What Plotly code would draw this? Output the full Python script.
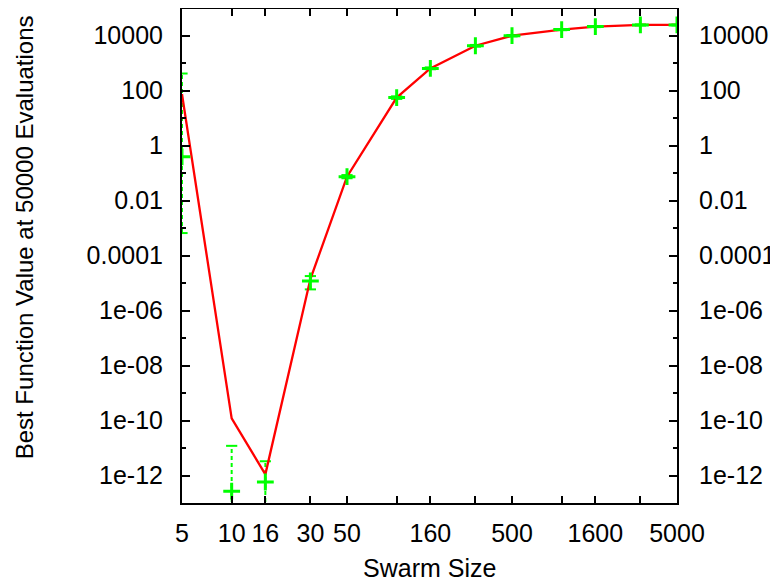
import plotly.graph_objects as go

# ---- data ----
swarm_sizes = [5, 10, 16, 30, 50, 100, 160, 300, 500, 1000, 1600, 3000, 5000]
# median best value (green crosses)
median_vals = [0.39, 2.7e-13, 5.8e-13, 1.2e-5, 0.074, 56, 645, 4300, 10000,
               16600, 21400, 24500, 24500]
# error bar ranges
err_low = [6.6e-4, 1e-15, 1e-15, 5.9e-6, 0.065, 50, 600, 4000, 9400,
           15800, 20500, 23500, 23600]
err_high = [420, 1.2e-11, 3.3e-12, 1.8e-5, 0.085, 62, 700, 4600, 10600,
            17400, 22300, 25500, 25400]
# mean best value (red line)
mean_vals = [75, 1.2e-10, 1.1e-12, 1.4e-5, 0.074, 56, 645, 4300, 10000,
             16600, 21400, 24500, 24500]

x_tick_vals = [5, 10, 16, 30, 50, 100, 160, 300, 500, 1000, 1600, 3000, 5000]
x_tick_text = ["5", "10", "16", "30", "50", "", "160", "", "500", "", "1600", "", "5000"]
y_tick_vals = [1e-12, 1e-10, 1e-8, 1e-6, 1e-4, 1e-2, 1, 100, 10000]
y_tick_text = ["1e-12", "1e-10", "1e-08", "1e-06", "0.0001", "0.01", "1", "100", "10000"]
y_minor_vals = [1e-13, 1e-11, 1e-9, 1e-7, 1e-5, 1e-3, 0.1, 10, 1000, 1e5]

FONT = "Liberation Sans, Arial, Helvetica, sans-serif"
GREEN = "#00ff00"
RED = "#ff0000"

fig = go.Figure()

# error bar segments (dashed)
ex, ey = [], []
for xv, lo, hi in zip(swarm_sizes, err_low, err_high):
    ex += [xv, xv, None]
    ey += [lo, hi, None]
fig.add_trace(go.Scatter(x=ex, y=ey, mode="lines",
                         line=dict(color=GREEN, width=2, dash="4px,3px"),
                         hoverinfo="skip", showlegend=False))
# caps
fig.add_trace(go.Scatter(x=swarm_sizes + swarm_sizes, y=err_low + err_high, mode="markers",
                         marker=dict(symbol="line-ew-open", size=8, color=GREEN,
                                     line=dict(color=GREEN, width=2)),
                         hoverinfo="skip", showlegend=False))
# mean line
fig.add_trace(go.Scatter(x=swarm_sizes, y=mean_vals, mode="lines",
                         line=dict(color=RED, width=2.3), showlegend=False))
# median crosses
fig.add_trace(go.Scatter(x=swarm_sizes, y=median_vals, mode="markers",
                         marker=dict(symbol="cross-thin-open", size=12, color=GREEN,
                                     line=dict(color=GREEN, width=3)),
                         showlegend=False))
# invisible trace for the right-hand axis
fig.add_trace(go.Scatter(x=swarm_sizes, y=median_vals, mode="markers", yaxis="y2",
                         marker=dict(opacity=0), hoverinfo="skip", showlegend=False))

yrange = [-13, 4.97]
common_y = dict(type="log", range=yrange, tickmode="array", tickvals=y_tick_vals,
                ticktext=y_tick_text, ticks="inside", ticklen=8, tickwidth=1.5,
                tickcolor="black", showgrid=False, zeroline=False, automargin=False,
                tickfont=dict(family=FONT, size=25, color="black"),
                minor=dict(tickmode="array", tickvals=y_minor_vals, ticks="inside",
                           ticklen=4, tickwidth=1.5, tickcolor="black", showgrid=False))

# page body has an 8px margin, so the figure is sized and offset accordingly
fig.update_layout(
    width=770, height=576,
    margin=dict(l=174, r=101, t=1, b=81),
    plot_bgcolor="white", paper_bgcolor="white",
    font=dict(family=FONT, size=25, color="black"),
    xaxis=dict(type="log", range=[0.69897, 3.69897], tickmode="array",
               tickvals=x_tick_vals, ticktext=x_tick_text, ticks="inside",
               ticklen=7, tickwidth=1.5, tickcolor="black", showline=True,
               linecolor="black", linewidth=2, mirror="ticks", showgrid=False,
               zeroline=False, ticklabelstandoff=7, automargin=False,
               tickfont=dict(family=FONT, size=25, color="black")),
    yaxis=dict(**common_y, showline=True, linecolor="black", linewidth=2,
               mirror=True, ticklabelstandoff=12),
    yaxis2=dict(**common_y, overlaying="y", side="right", showline=False,
                ticklabelstandoff=21),
    annotations=[
        dict(text="Swarm Size", xref="paper", yref="paper", x=0.5, y=-0.1316,
             xanchor="center", yanchor="middle", showarrow=False,
             font=dict(family=FONT, size=25, color="black")),
        dict(text="Best Function Value at 50000 Evaluations", xref="paper", yref="paper",
             x=-0.319, y=0.538, xanchor="center", yanchor="middle", textangle=-90,
             showarrow=False, font=dict(family=FONT, size=24, color="black")),
    ],
)

fig.write_html("out.html")
